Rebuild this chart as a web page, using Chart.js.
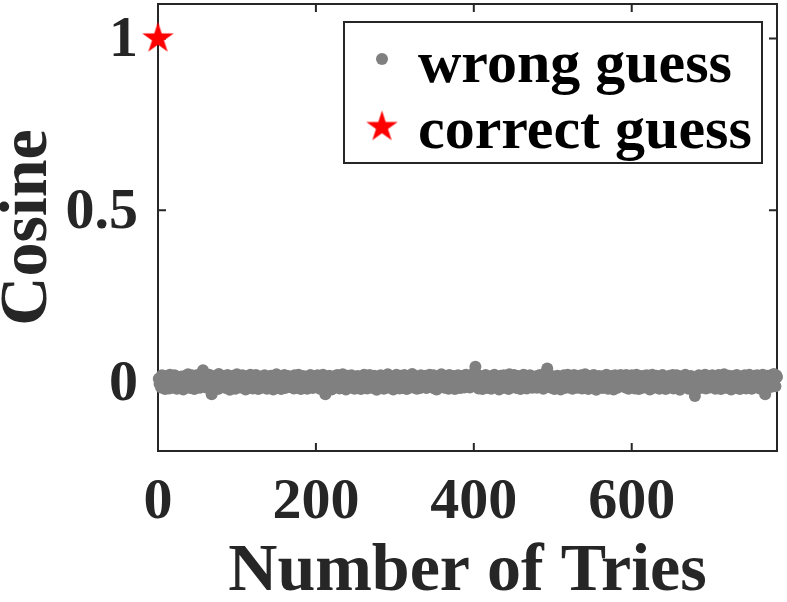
<!DOCTYPE html>
<html>
<head>
<meta charset="utf-8">
<script src="https://cdn.jsdelivr.net/npm/chart.js@4.4.1/dist/chart.umd.min.js"></script>
<style>
  html, body { margin: 0; padding: 0; background: #fff; }
</style>
</head>
<body>
<canvas id="chart" width="787" height="602"></canvas>
<script>
// cosine of each wrong guess, tries 1..784 (read off the band around 0)
const wrongCosine = [
  .01,-.005,.012,-.015,.02,.003,-.01,.015,-.02,.008,.018,-.012,.005,-.018,.022,.01,-.008,.014,-.016,.006,.02,-.004,.011,-.019,.016,.002,-.013,.009,
  -.006,.017,.004,-.021,.013,-.009,.019,.001,-.014,.023,-.003,.008,-.017,.012,.02,-.011,.005,-.02,.015,.007,-.012,.021,-.002,.01,-.016,.018,.003,-.008,
  .035,.012,-.01,.02,-.015,.006,.016,-.004,.022,-.013,.009,-.035,-.018,.014,.002,-.011,.019,-.006,.011,-.02,.024,.004,-.009,.015,-.014,.007,.018,-.003,
  .013,-.017,.005,.021,-.008,.016,-.022,.01,.003,-.012,.019,-.005,.014,-.019,.008,.023,-.01,.002,.017,-.015,.011,-.007,.02,-.013,.006,.015,-.021,.009,
  -.004,.018,-.014,.012,.022,-.009,.007,-.018,.016,.001,-.012,.021,-.006,.013,-.02,.009,.017,-.003,-.016,.014,.005,-.011,.02,-.008,.012,-.019,.003,.016,
  .008,-.013,.019,-.002,.014,-.021,.011,.006,-.015,.023,-.007,.01,.017,-.012,.004,-.02,.015,.009,-.005,.021,-.017,.013,.001,-.01,.018,-.014,.007,.012,
  -.009,.016,.003,-.018,.02,-.006,.012,-.016,.009,.022,-.011,.005,-.02,.014,.018,-.004,.01,-.013,.017,.002,-.019,.015,.008,-.007,.021,-.012,.006,-.017,
  .011,-.005,.018,-.014,.007,.02,-.01,.013,-.019,.004,.016,-.008,.022,-.013,.009,-.035,.015,-.003,-.017,.012,.019,-.006,.008,-.021,.014,.003,-.011,.018,
  -.007,.014,.021,-.012,.005,-.018,.017,.01,-.004,.023,-.015,.008,.013,-.021,.002,.019,-.009,.015,-.013,.006,.02,-.016,.011,.003,-.019,.016,-.002,.012,
  .018,-.01,.006,.015,-.02,.012,.001,-.014,.022,-.006,.009,.017,-.018,.013,-.003,.021,-.011,.007,.016,-.017,.004,.019,-.008,.014,-.022,.01,.015,-.005,
  .009,.02,-.013,.004,.017,-.019,.011,-.002,.015,-.016,.023,.006,-.01,.018,-.014,.008,.012,-.021,.016,.002,-.009,.022,-.015,.01,.005,-.018,.019,-.006,
  .014,-.016,.007,.021,-.004,.012,-.02,.017,.003,-.011,.019,-.008,.013,.024,-.015,.005,-.012,.018,.009,-.019,.015,-.003,.011,-.017,.02,.006,-.01,.016,
  -.012,.008,.019,-.017,.013,.002,-.009,.022,-.014,.01,.016,-.005,.02,-.018,.007,.014,-.021,.011,.003,-.013,.018,-.007,.023,-.011,.009,.015,-.016,.004,
  .017,-.003,.011,-.019,.021,.006,-.014,.013,-.008,.018,.001,-.02,.015,.009,-.012,.02,-.006,.016,-.017,.005,.012,-.01,.019,-.015,.008,.022,-.004,.013,
  -.009,.016,-.015,.01,.02,-.006,.013,.024,.03,.045,.015,-.012,.008,-.018,.019,.004,-.011,.017,-.02,.012,.006,-.014,.021,-.003,.01,-.017,.015,.007,
  .012,-.019,.018,.003,-.01,.022,-.013,.009,.016,-.007,.014,-.021,.011,.019,-.004,.007,-.016,.02,.001,-.012,.017,-.008,.013,-.02,.023,.005,-.011,.016,
  -.014,.01,.021,-.009,.015,-.017,.006,.018,-.003,.012,-.02,.016,.008,-.013,.022,-.006,.011,.019,-.018,.004,.014,-.011,.02,-.005,.009,-.016,.017,.002,
  .015,-.008,.012,-.016,.019,.005,-.012,.021,-.004,.014,.009,-.019,.017,.018,.026,.03,.04,.02,-.01,.013,-.015,.006,.018,-.007,.011,-.02,.016,.003,
  -.006,.019,-.014,.011,.004,-.021,.016,.008,-.011,.02,-.017,.013,.002,-.008,.022,-.015,.01,.017,-.004,.012,-.019,.007,.021,-.012,.015,.001,-.016,.018,
  .01,-.013,.005,.02,-.018,.014,.008,-.006,.023,-.016,.011,.003,-.02,.017,-.009,.013,.019,-.014,.006,.021,-.01,.015,-.022,.009,.004,-.012,.018,-.007,
  .016,.003,-.017,.012,-.005,.019,-.013,.022,.007,-.019,.014,-.002,.01,.018,-.015,.006,-.021,.013,.02,-.008,.011,-.016,.017,.002,-.012,.021,-.006,.009,
  -.011,.017,.008,-.015,.021,-.003,.012,-.019,.015,.005,-.009,.02,-.014,.01,.016,-.018,.004,.022,-.007,.013,-.02,.009,.018,-.012,.006,-.016,.014,.019,
  .007,-.014,.02,-.005,.013,.017,-.021,.009,-.01,.022,.002,-.016,.015,-.008,.019,.011,-.013,.005,-.019,.016,.01,-.004,.021,-.015,.012,.003,-.02,.014,
  -.016,.011,.004,.019,-.012,.015,-.007,.021,-.018,.008,.014,-.003,.02,-.015,.01,.017,-.022,.006,.013,-.009,.018,.001,-.014,.022,-.006,.011,.016,-.019,
  .013,-.009,.018,.002,-.015,.011,-.024,-.04,-.022,.009,.016,-.011,.02,.005,-.017,.014,-.004,.019,-.013,.008,.022,-.018,.012,.003,-.01,.017,-.015,.009,
  -.005,.02,-.012,.014,.007,-.019,.016,-.002,.011,.021,-.014,.006,-.02,.017,.01,-.008,.023,-.013,.004,.015,-.017,.012,.019,-.006,.009,-.021,.014,.002,
  .018,-.011,.008,-.016,.021,.004,-.009,.015,-.02,.012,.017,-.006,.01,-.014,.02,.003,-.018,.013,.007,-.012,.022,-.004,.016,-.019,.011,.006,-.015,.019,
  -.008,.014,.02,-.013,.006,-.018,.016,.01,-.005,.022,-.016,-.022,-.035,-.015,.012,.019,-.01,.005,.017,-.014,.021,-.007,.013,.024,.018,-.012,.02,.015
];
const correctTry = [0];
const correctCosine = [1];
const seriesLabels = ['wrong guess', 'correct guess'];
const xTicks = [0, 200, 400, 600];
const yTicks = [0, 0.5, 1];

const AXIS = '#262626';
const FONT = 'Liberation Serif';

// filled five-pointed red star (MATLAB pentagram marker)
function makeStar(R) {
  const c = document.createElement('canvas');
  const s = Math.ceil(R * 2 + 4);
  c.width = s; c.height = s;
  const g = c.getContext('2d');
  const r = R * 0.382;
  g.beginPath();
  for (let k = 0; k < 10; k++) {
    const rad = k % 2 ? r : R;
    const a = -Math.PI / 2 + k * Math.PI / 5;
    const px = s / 2 + rad * Math.cos(a), py = s / 2 + rad * Math.sin(a);
    k ? g.lineTo(px, py) : g.moveTo(px, py);
  }
  g.closePath();
  g.fillStyle = '#ff0000';
  g.fill();
  return c;
}
const star = makeStar(16.5);

const boxPlugin = {
  id: 'box',
  beforeDatasetsDraw(chart) {
    const {ctx, chartArea: a, scales: {x, y}} = chart;
    ctx.save();
    ctx.strokeStyle = AXIS;
    ctx.lineWidth = 2;
    ctx.strokeRect(a.left, a.top, a.right - a.left, a.bottom - a.top);
    ctx.beginPath();
    xTicks.forEach(v => {
      const px = x.getPixelForValue(v);
      ctx.moveTo(px, a.bottom); ctx.lineTo(px, a.bottom - 8);
      ctx.moveTo(px, a.top); ctx.lineTo(px, a.top + 8);
    });
    yTicks.forEach(v => {
      const py = y.getPixelForValue(v);
      ctx.moveTo(a.left, py); ctx.lineTo(a.left + 8, py);
      ctx.moveTo(a.right, py); ctx.lineTo(a.right - 8, py);
    });
    ctx.stroke();
    ctx.restore();
  }
};

const legendPlugin = {
  id: 'boxLegend',
  afterDatasetsDraw(chart) {
    const ctx = chart.ctx;
    const L = 344, T = 22, W = 418, H = 141;
    ctx.save();
    ctx.fillStyle = '#fff';
    ctx.fillRect(L, T, W, H);
    ctx.strokeStyle = AXIS;
    ctx.lineWidth = 2;
    ctx.strokeRect(L, T, W, H);
    ctx.fillStyle = '#808080';
    ctx.beginPath();
    ctx.arc(382, 59, 6, 0, Math.PI * 2);
    ctx.fill();
    ctx.drawImage(star, 382 - star.width / 2, 127 - star.height / 2);
    ctx.fillStyle = '#000';
    ctx.font = 'bold 60px "' + FONT + '"';
    ctx.textAlign = 'left';
    ctx.textBaseline = 'alphabetic';
    ctx.fillText(seriesLabels[0], 418, 82);
    ctx.fillText(seriesLabels[1], 418, 148);
    ctx.restore();
  }
};

new Chart(document.getElementById('chart'), {
  type: 'scatter',
  data: {
    datasets: [{
      label: seriesLabels[0],
      data: wrongCosine.map((v, i) => ({x: i + 1, y: v})),
      pointStyle: 'circle',
      pointRadius: 6,
      backgroundColor: '#808080',
      borderWidth: 0,
      clip: false,
      order: 1
    }, {
      label: seriesLabels[1],
      data: correctTry.map((t, i) => ({x: t, y: correctCosine[i]})),
      pointStyle: star,
      pointRadius: 16,
      clip: false,
      order: 0
    }]
  },
  options: {
    responsive: false,
    animation: false,
    events: [],
    layout: {autoPadding: false, padding: {top: 4, right: 10, left: 0, bottom: 0}},
    plugins: {legend: {display: false}, tooltip: {enabled: false}},
    scales: {
      x: {
        type: 'linear',
        min: 0,
        max: 784,
        grid: {display: false, drawTicks: false},
        border: {display: false},
        afterBuildTicks: s => { s.ticks = xTicks.map(v => ({value: v})); },
        afterFit: s => { s.height = 151; s.paddingLeft = 0; s.paddingRight = 0; },
        ticks: {
          padding: 23,
          color: AXIS,
          maxRotation: 0,
          font: {family: FONT, size: 58, weight: 'bold', lineHeight: 1},
          callback: v => String(v)
        },
        title: {
          display: true,
          text: 'Number of Tries',
          color: AXIS,
          font: {family: FONT, size: 68, weight: 'bold', lineHeight: 1},
          padding: {top: 0, bottom: -4}
        }
      },
      y: {
        type: 'linear',
        min: -0.2,
        max: 1.1,
        grid: {display: false, drawTicks: false},
        border: {display: false},
        afterBuildTicks: s => { s.ticks = yTicks.map(v => ({value: v})); },
        afterFit: s => { s.width = 158; s.paddingTop = 0; s.paddingBottom = 0; },
        ticks: {
          padding: 20,
          labelOffset: 3,
          color: AXIS,
          font: {family: FONT, size: 58, weight: 'bold', lineHeight: 1},
          callback: v => String(v)
        },
        title: {
          display: true,
          text: 'Cosine',
          color: AXIS,
          font: {family: FONT, size: 68, weight: 'bold', lineHeight: 1},
          padding: {top: -6, bottom: 0}
        }
      }
    }
  },
  plugins: [boxPlugin, legendPlugin]
});
</script>
</body>
</html>
